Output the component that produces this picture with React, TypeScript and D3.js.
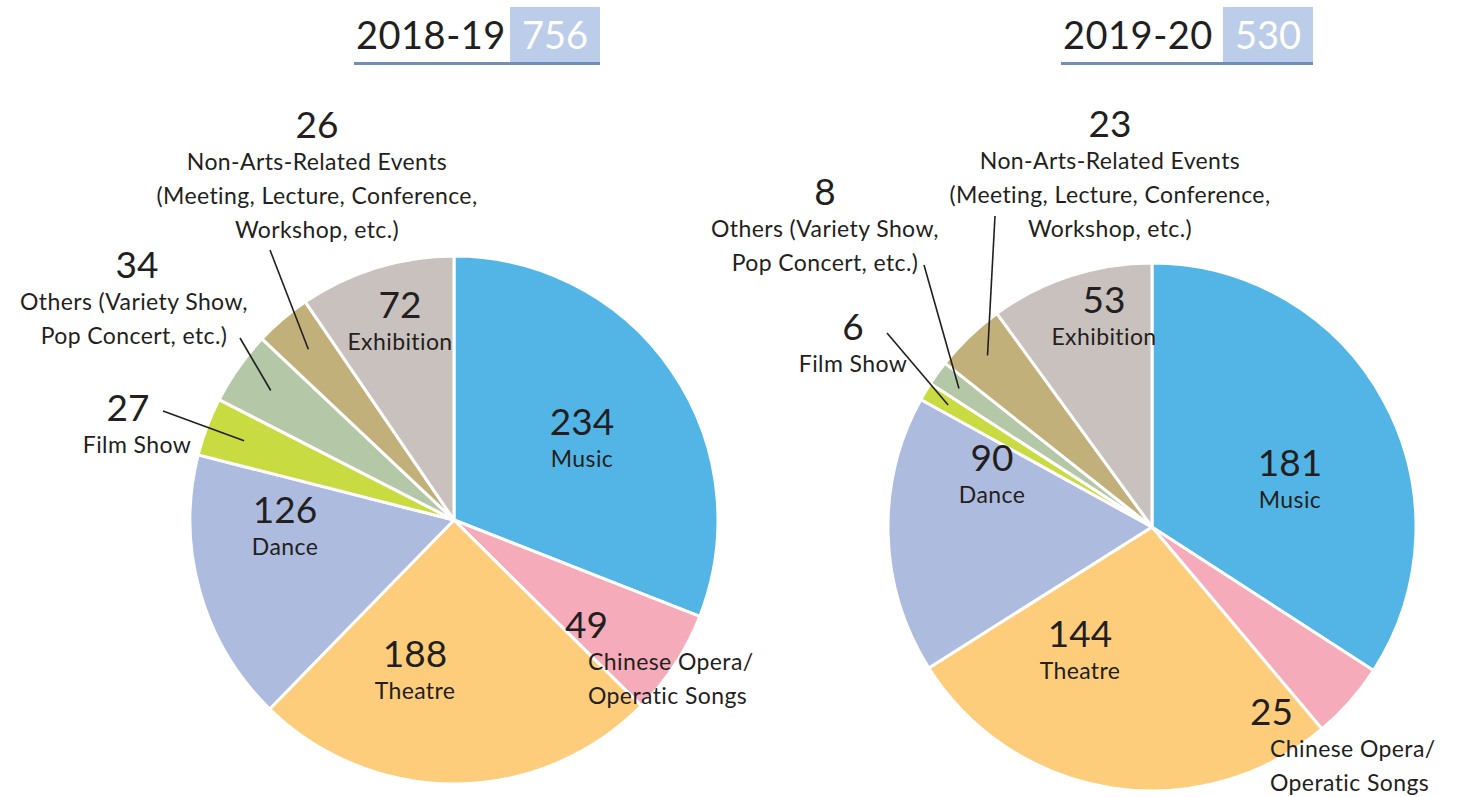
import React from "react";
import * as d3 from "d3";

// categories, clockwise from 12 o'clock
const categories = [
  "Music",
  "Chinese Opera/Operatic Songs",
  "Theatre",
  "Dance",
  "Film Show",
  "Others",
  "Non-Arts-Related Events",
  "Exhibition",
];

// label text lines for each category
const categoryLines = [
  ["Music"],
  ["Chinese Opera/", "Operatic Songs"],
  ["Theatre"],
  ["Dance"],
  ["Film Show"],
  ["Others (Variety Show,", "Pop Concert, etc.)"],
  ["Non-Arts-Related Events", "(Meeting, Lecture, Conference,", "Workshop, etc.)"],
  ["Exhibition"],
];

const values1819 = [234, 49, 188, 126, 27, 34, 26, 72];
const values1920 = [181, 25, 144, 90, 6, 8, 23, 53];

const colors = ["#52b5e6", "#f5abb9", "#fdcd7c", "#adbbdf", "#c8dc42", "#b4c8a8", "#c2b07a", "#c9c1bd"];

const years = ["2018-19", "2019-20"];

const FONT = "Lato, 'Liberation Sans', sans-serif";
const INK = "#231f20";

type LabelPos = { x: number; y: number; anchor?: string; nameX?: number; lead?: [number, number] };

// label placement, relative to pie centre
const layoutLeft: LabelPos[] = [
  { x: 128, y: -95 },
  { x: 111, y: 108, anchor: "start", nameX: 134 },
  { x: -39, y: 137 },
  { x: -169, y: -7 },
  { x: -326, y: -109, nameX: -317, lead: [-291, -109] },
  { x: -317, y: -252, nameX: -320, lead: [-214, -182] },
  { x: -137, y: -392, lead: [-184, -270] },
  { x: -54, y: -212 },
];

const layoutRight: LabelPos[] = [
  { x: 138, y: -61 },
  { x: 98, y: 188, anchor: "start", nameX: 118 },
  { x: -72, y: 110 },
  { x: -160, y: -66 },
  { x: -299, y: -197, lead: [-265, -194] },
  { x: -327, y: -332, lead: [-228, -262] },
  { x: -42, y: -400, lead: [-157, -311] },
  { x: -48, y: -224 },
];

const Title = ({ x, boxX, year, total }: { x: number; boxX: number; year: string; total: number }) => {
  const boxW = 90;
  return (
    <g>
      <rect x={boxX} y={7} width={boxW} height={56} fill="#bccde9" />
      <text x={x} y={49} fontFamily={FONT} fontSize={38} fill={INK} letterSpacing={0.5}>
        {year}
      </text>
      <text x={boxX + boxW / 2} y={49} fontFamily={FONT} fontSize={38} fill="#fff" textAnchor="middle">
        {total}
      </text>
      <rect x={x - 2} y={62} width={boxX + boxW - x + 2} height={3} fill="#6f8fc4" />
    </g>
  );
};

const Pie = ({
  values,
  cx,
  cy,
  r,
  layout,
  leadR,
}: {
  values: number[];
  cx: number;
  cy: number;
  r: number;
  layout: LabelPos[];
  leadR: number;
}) => {
  const pie = d3.pie<number>().sort(null).value((d) => d);
  const arcs = pie(values);
  const arc = d3.arc<d3.PieArcDatum<number>>().innerRadius(0).outerRadius(r);
  const leadArc = d3.arc<d3.PieArcDatum<number>>().innerRadius(r * leadR).outerRadius(r * leadR);

  return (
    <g transform={`translate(${cx},${cy})`}>
      {arcs.map((a, i) => (
        <path key={categories[i]} d={arc(a) || ""} fill={colors[i]} stroke="#fff" strokeWidth={3} strokeLinejoin="round" />
      ))}
      {arcs.map((a, i) => {
        const p = layout[i];
        if (!p.lead) return null;
        const end = leadArc.centroid(a);
        return (
          <line key={"l" + i} x1={p.lead[0]} y1={p.lead[1]} x2={end[0]} y2={end[1]} stroke={INK} strokeWidth={1.6} />
        );
      })}
      {arcs.map((a, i) => {
        const p = layout[i];
        const anchor = p.anchor || "middle";
        const nx = p.nameX !== undefined ? p.nameX : p.x;
        return (
          <g key={"t" + i} fontFamily={FONT} fill={INK}>
            <text x={p.x} y={p.y + 10} fontSize={37} textAnchor={anchor}>
              {a.data}
            </text>
            {categoryLines[i].map((line, j) => (
              <text key={j} x={nx} y={p.y + 42 + j * 34} fontSize={23} letterSpacing={0.4} textAnchor={anchor}>
                {line}
              </text>
            ))}
          </g>
        );
      })}
    </g>
  );
};

export default function App() {
  return (
    <svg width={1481} height={797} style={{ position: "absolute", left: 0, top: 0, background: "#fff" }}>
      <Title x={356} boxX={510} year={years[0]} total={d3.sum(values1819)} />
      <Title x={1063} boxX={1223} year={years[1]} total={d3.sum(values1920)} />
      <Pie values={values1819} cx={454} cy={520} r={264} layout={layoutLeft} leadR={0.85} />
      <Pie values={values1920} cx={1152} cy={527} r={264} layout={layoutRight} leadR={0.9} />
    </svg>
  );
}
